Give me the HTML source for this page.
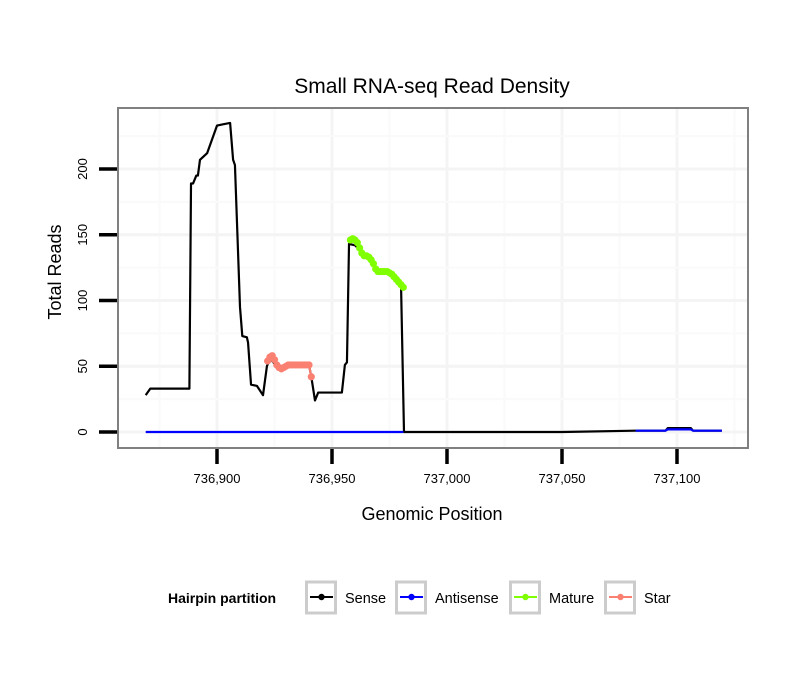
<!DOCTYPE html>
<html><head><meta charset="utf-8"><style>
body{margin:0;background:#fff;font-family:"Liberation Sans",sans-serif}
svg text{font-family:"Liberation Sans",sans-serif}
</style></head><body>
<svg id="chart" width="810" height="690" xmlns="http://www.w3.org/2000/svg">
<rect width="810" height="690" fill="#fff"/>
<text x="432" y="93" font-size="21" text-anchor="middle">Small RNA-seq Read Density</text>
<rect x="118" y="108" width="630" height="340" fill="#fff"/>
<g id="grid"></g>
<g id="series"></g>
<rect x="118" y="108" width="630" height="340" fill="none" stroke="#808080" stroke-width="2"/>
<g id="axes"></g>
<text x="432" y="520" font-size="18" text-anchor="middle">Genomic Position</text>
<text transform="translate(61,272) rotate(-90)" font-size="18" text-anchor="middle">Total Reads</text>
<g id="legend">
<text x="168" y="603" font-size="14" font-weight="bold">Hairpin partition</text>
</g>
</svg>
<script>
const xTicks=[736900,736950,737000,737050,737100];
const xTickLabels=["736,900","736,950","737,000","737,050","737,100"];
const yTicks=[0,50,100,150,200];
const yTickLabels=["0","50","100","150","200"];
const sensePos=[736869,736871,736888,736888.7,736889.6,736891,736891.7,736892.6,736895.7,736900,736902.6,736905.7,736907,736907.8,736910,736911,736913,736913.5,736914.8,736917.4,736920,736921.7,736923,736925,736927,736930,736935,736940,736941,736942.6,736944,736954.3,736955.6,736956.5,736957.4,736960,736965,736970,736975,736980,736981.3,737000,737050,737081.7,737095,737096,737106,737107,737119.5];
const senseVal=[28,33,33,189,189,195,195,207,212,233,234,235,207,203,95,73,72,68,36,35,28,50,56,52,49,50,51,51,42,24,30,30,51,53,143,142,133,122,120,113,0,0,0,1,1,3,3,1,1];
const antiPos=[736869,736981,null,737082,737095,737096,737106,737107,737119.5];
const antiVal=[0,0,null,1,1,2,2,1,1];
const starPos=[736922,736923,736924,736925,736926,736927,736928,736929,736930,736931,736932,736933,736934,736935,736936,736937,736938,736939,736940,736941];
const starVal=[54,57,58,55,51,49,48,49,50,51,51,51,51,51,51,51,51,51,51,42];
const maturePos=[736958,736959,736960,736961,736962,736963,736964,736965,736966,736967,736968,736969,736970,736971,736972,736973,736974,736975,736976,736977,736978,736979,736980,736981];
const matureVal=[146,147,146,144,140,136,134,134,133,131,128,124,122,122,122,122,122,121,120,118,116,114,112,110];
const legendNames=["Sense","Antisense","Mature","Star"];
const colors={Sense:"#000",Antisense:"#0000ff",Mature:"#7fff00",Star:"#fa8072"};
const NS="http://www.w3.org/2000/svg";
const X=v=>217+(v-736900)*2.3;
const Y=v=>432-v*1.315;
function mk(tag,attrs,parent){const e=document.createElementNS(NS,tag);for(const k in attrs)e.setAttribute(k,attrs[k]);parent.appendChild(e);return e;}
const grid=document.getElementById('grid');
for(let v=736875;v<=737125;v+=25){
 const l=mk('line',{x1:X(v),x2:X(v),y1:109,y2:447,stroke:(v%50===0)?'#f4f4f4':'#fafafa','stroke-width':(v%50===0)?3:2},grid);
 
 
}
for(let v=0;v<=225;v+=25){
 const l=mk('line',{x1:119,x2:747,y1:Y(v),y2:Y(v),stroke:(v%50===0)?'#f4f4f4':'#fafafa','stroke-width':(v%50===0)?3:2},grid);
 
 
}
const axes=document.getElementById('axes');
xTicks.forEach((v,i)=>{
 const t=mk('line',{x1:X(v),x2:X(v),y1:449,y2:464,stroke:'#000','stroke-width':3.5},axes);
 
 
 const tx=mk('text',{x:X(v),y:483,'font-size':13,'text-anchor':'middle'},axes);
 tx.textContent=xTickLabels[i];
 
 
});
yTicks.forEach((v,i)=>{
 const t=mk('line',{x1:99,x2:117,y1:Y(v),y2:Y(v),stroke:'#000','stroke-width':3.5},axes);
 
 
 const tx=mk('text',{transform:`translate(87,${Y(v)}) rotate(-90)`,'font-size':13,'text-anchor':'middle'},axes);
 tx.textContent=yTickLabels[i];
 
 
});
const ser=document.getElementById('series');
function line(pos,val,color,name){
 let segs=[[]];
 pos.forEach((x,i)=>{ if(x===null){segs.push([]);} else segs[segs.length-1].push(X(x)+','+Y(val[i])); });
 segs.forEach(s=>{
  if(s.length<2)return;
  const p=mk('polyline',{points:s.join(' '),fill:'none',stroke:color,'stroke-width':2.2,'stroke-linejoin':'round'},ser);
  
  
 });
}
function pts(pos,val,color,name){
 line(pos,val,color,name+'-line');
 pos.forEach((x,i)=>{
  const c=mk('circle',{cx:X(x),cy:Y(val[i]),r:3.6,fill:color},ser);
  
  
 });
}
line(sensePos,senseVal,colors.Sense,'sense-line');
line(antiPos,antiVal,colors.Antisense,'antisense-line');
pts(starPos,starVal,colors.Star,'star');
pts(maturePos,matureVal,colors.Mature,'mature');
const lg=document.getElementById('legend');
const boxX=[305,395,509,604];
legendNames.forEach((n,i)=>{
 const g=mk('g',{},lg);
 
 
 mk('rect',{x:boxX[i]+1.5,y:582,width:29,height:31,fill:'#fff',stroke:'#cccccc','stroke-width':3},g);
 mk('line',{x1:boxX[i]+5,x2:boxX[i]+28,y1:597,y2:597,stroke:colors[n],'stroke-width':2},g);
 mk('circle',{cx:boxX[i]+16.5,cy:597,r:3.2,fill:colors[n]},g);
 const t=mk('text',{x:boxX[i]+40,y:603,'font-size':14.5},g);
 t.textContent=n;
});
</script>
</body></html>
